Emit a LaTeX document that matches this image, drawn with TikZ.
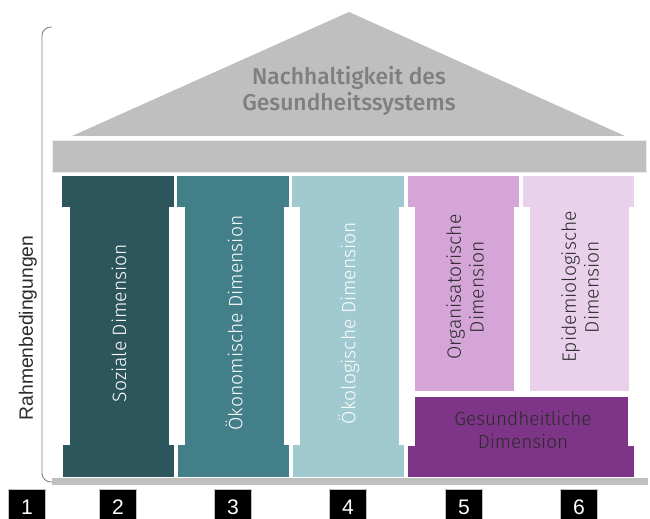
\documentclass[tikz,border=0pt]{standalone}
\usepackage{fontspec}
\setmainfont{Fira Sans}[UprightFont=* Light, BoldFont=* Medium]
\newfontfamily\framefont{Liberation Sans}
\definecolor{roofgray}{HTML}{BFBFBF}
\definecolor{rooftext}{HTML}{7F7F7F}
\definecolor{soz}{HTML}{2D555C}
\definecolor{oek}{HTML}{437F88}
\definecolor{okol}{HTML}{A0C9D0}
\definecolor{org}{HTML}{D5A5D8}
\definecolor{epi}{HTML}{EAD1EB}
\definecolor{ges}{HTML}{7E3587}
\definecolor{darktext}{HTML}{2B2B2B}

\begin{document}
\begin{tikzpicture}[x=0.02cm, y=-0.02cm,
  dimtext/.style={rotate=90, align=center, font=\fontsize{11}{13}\selectfont},
  numbox/.style={fill=black, draw=gray!50, minimum width=0.74cm, minimum height=0.7cm,
    inner sep=0pt, text=white, font=\framefont\fontsize{12}{14}\selectfont},
  bracket/.style={draw=gray, line width=0.5pt, rounded corners=5pt}]
  \useasboundingbox (0,0) rectangle (650,519);
  \fill[roofgray] (72,136) -- (349,12) -- (625,136) -- cycle;
  \node[text=rooftext, align=center, font=\bfseries\fontsize{13}{14.5}\selectfont] (roof) at (349,91) {Nachhaltigkeit des\\Gesundheitssystems};
  \filldraw[fill=roofgray, draw=gray!15] (52,140) rectangle (646,172);
  \draw[bracket] (52,27) -- (42,27) -- (42,482) -- (52,482);
  \node[rotate=90, text=darktext, font=\framefont\fontsize{11}{13}\selectfont] (rahmen) at (28,328) {Rahmenbedingungen};
  \foreach \a/\col/\txt/\lab in {62/soz/white/Soziale Dimension, 177/oek/white/Ökonomische Dimension, 292/okol/white/Ökologische Dimension} {
    \fill[\col] (\a,176) rectangle (\a+112,207);
    \fill[\col] (\a+8,207) rectangle (\a+107,445);
    \fill[\col] (\a+1,445) rectangle (\a+112,477);
    \node[dimtext, text=\txt] (\col) at (\a+57,323) {\lab};
  }
  \foreach \a/\col/\lab in {408/org/Organisatorische, 523/epi/Epidemiologische} {
    \fill[\col] (\a,176) rectangle (\a+111,207);
    \fill[\col] (\a+7,207) rectangle (\a+106,391);
    \node[dimtext, text=darktext] (\col) at (\a+57,287) {\lab\\Dimension};
  }
  \fill[ges] (415,397) rectangle (628,446);
  \fill[ges] (408,446) rectangle (634,477);
  \node[align=center, text=darktext, font=\fontsize{10.8}{13}\selectfont] (ges) at (523,430) {Gesundheitliche\\Dimension};
  \fill[roofgray] (52,478) rectangle (648,485);
  \foreach \n/\x in {1/27, 2/118, 3/233, 4/348, 5/464, 6/579}
    \node[numbox] (n\n) at (\x,507) {\n};
\end{tikzpicture}
\end{document}
